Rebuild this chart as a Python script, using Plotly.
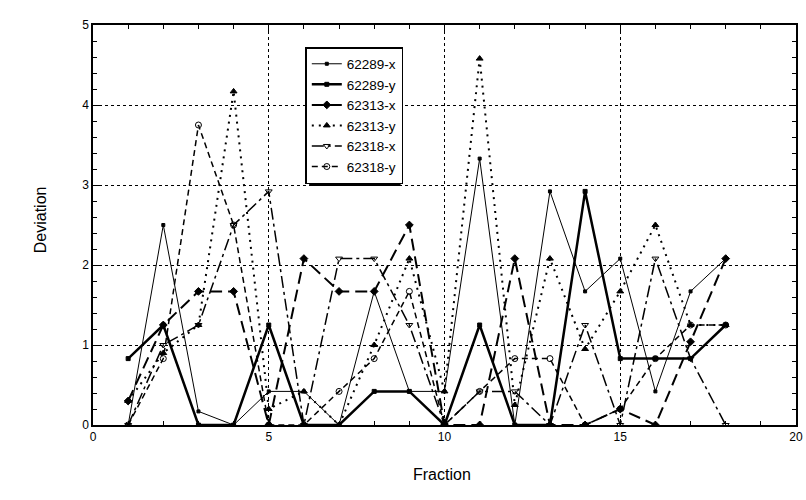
import plotly.graph_objects as go

fraction = list(range(1, 19))

dev_62289_x = [0, 2.5, 0.17, 0, 0.42, 0.42, 0, 1.67, 0.42, 0.42, 3.33, 0, 2.92, 1.67, 2.08, 0.42, 1.67, 2.08]
dev_62289_y = [0.83, 1.25, 0, 0, 1.25, 0, 0, 0.42, 0.42, 0, 1.25, 0, 0, 2.92, 0.83, 0.83, 0.83, 1.25]
dev_62313_x = [0.3, 1.25, 1.67, 1.67, 0, 2.08, 1.67, 1.67, 2.5, 0, 0, 2.08, 0, 0, 0.2, 0, 1.04, 2.08]
dev_62313_y = [0.3, 0.9, 1.25, 4.17, 0.2, 0.42, 0, 1.0, 2.08, 0.42, 4.58, 0.25, 2.08, 0.95, 1.67, 2.5, 1.25, 1.25]
dev_62318_x = [0, 1.0, 1.25, 2.5, 2.92, 0, 2.08, 2.08, 1.25, 0, 0.42, 0.42, 0, 1.25, 0, 2.08, 0.83, 0]
dev_62318_y = [0, 0.83, 3.75, 2.5, 0, 0, 0.42, 0.83, 1.67, 0, 0.42, 0.83, 0.83, 0, 0.2, 0.83, 1.25, 1.25]

series = [
    ("62289-x", dev_62289_x, dict(width=1, dash="solid"), dict(symbol="square", size=3)),
    ("62289-y", dev_62289_y, dict(width=2.5, dash="solid"), dict(symbol="square", size=4)),
    ("62313-x", dev_62313_x, dict(width=2, dash="12px,6px"), dict(symbol="diamond", size=6)),
    ("62313-y", dev_62313_y, dict(width=2, dash="2px,5px"), dict(symbol="triangle-up", size=6)),
    ("62318-x", dev_62318_x, dict(width=1.5, dash="12px,4px,3px,4px"), dict(symbol="triangle-down-open", size=6)),
    ("62318-y", dev_62318_y, dict(width=1.5, dash="6px,4px"), dict(symbol="circle-open", size=6)),
]

fig = go.Figure()
for name, vals, line, marker in series:
    fig.add_trace(go.Scatter(
        x=fraction, y=vals, name=name, mode="lines+markers",
        line=dict(color="black", **line),
        marker=dict(color="black", line=dict(color="black", width=1), **marker),
    ))

axis_common = dict(
    showline=True, linecolor="black", linewidth=1.5, mirror="allticks",
    ticks="inside", ticklen=6, tickcolor="black",
    showgrid=True, gridcolor="black", griddash="dot", gridwidth=1,
    zeroline=False, tickfont=dict(size=12, color="black"), automargin=False,
)

fig.update_xaxes(range=[0, 20], dtick=5, tick0=0,
                 minor=dict(dtick=1, ticks="inside", ticklen=4, tickcolor="black", showgrid=False),
                 **axis_common)
fig.update_yaxes(range=[0, 5], dtick=1, tick0=0,
                 minor=dict(dtick=0.2, ticks="inside", ticklen=4, tickcolor="black", showgrid=False),
                 **axis_common)

fig.update_layout(
    width=806, height=500,
    margin=dict(l=93, r=10, t=25, b=75, autoexpand=False),
    paper_bgcolor="white", plot_bgcolor="white",
    font=dict(family="Liberation Sans, Arial, sans-serif", color="black"),
    legend=dict(x=0.302, y=0.945, xanchor="left", yanchor="top",
                bgcolor="white", bordercolor="black", borderwidth=1.5,
                font=dict(size=13.5), tracegroupgap=0, itemwidth=30),
    shapes=[
        # drop shadow behind the legend box
        dict(type="rect", xref="paper", yref="paper", layer="above",
             x0=0.3075, x1=0.4375, y0=0.5975, y1=0.9375,
             fillcolor="black", line=dict(width=0)),
    ],
    annotations=[
        dict(text="Fraction", xref="paper", yref="paper", x=0.497, y=-0.1225,
             xanchor="center", yanchor="middle", showarrow=False,
             font=dict(size=16, color="black")),
        dict(text="Deviation", xref="paper", yref="paper", x=-0.075, y=0.5125,
             xanchor="center", yanchor="middle", textangle=-90, showarrow=False,
             font=dict(size=16, color="black")),
    ],
)

fig.write_html("out.html", config={"displayModeBar": False},
               post_script="document.body.style.margin='0';")
